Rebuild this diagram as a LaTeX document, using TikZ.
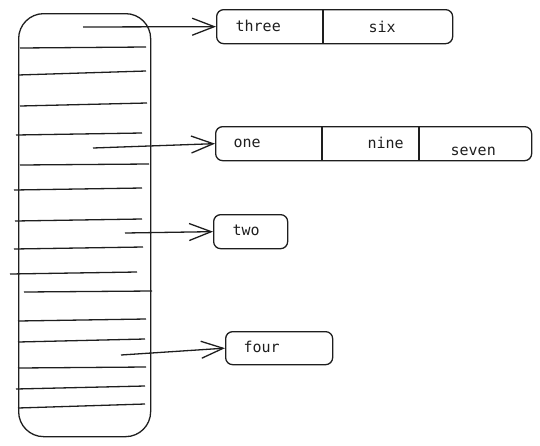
\documentclass[tikz,border=0pt]{standalone}
\usepackage{fontspec}
\setmonofont{DejaVu Sans Mono}
\definecolor{inkgray}{HTML}{1E1E1E}
\usetikzlibrary{arrows.meta,positioning}

\begin{document}
\begin{tikzpicture}[
  x=1pt, y=-1pt,
  line width=1.3pt, draw=inkgray,
  bucket/.style={rectangle, draw=inkgray, rounded corners=7pt,
    inner sep=0pt, anchor=north west},
  word/.style={anchor=base west, inner sep=0pt, text=inkgray,
    font=\ttfamily\fontsize{15}{18}\selectfont},
  link/.style={draw=inkgray, -{Straight Barb[length=22pt, width=17pt]}}
]
  \useasboundingbox (0,0) rectangle (540,445);

  % the table
  \node[rectangle, draw=inkgray, rounded corners=25pt, minimum width=132pt,
    minimum height=423pt, inner sep=0pt, anchor=north west] (tbl) at (18,13) {};
  \foreach \xa/\ya/\xb/\yb in {20/48/146/47, 18/75/146/71, 20/106/147/103,
      16/135/142/133, 20/165/149/164, 14/190/142/188, 15/221/142/219,
      14/249/143/247, 10/274/137/272, 24/292/152/291, 18/321/146/319,
      18/342/145/339, 18/368/146/367, 16/389/145/386, 18/408/145/404}
    \draw (\xa,\ya) -- (\xb,\yb);

  % the chains
  \node[bucket, minimum width=236pt, minimum height=34pt] (b1) at (216,9) {};
  \node[bucket, minimum width=316pt, minimum height=34pt] (b2) at (215,126) {};
  \node[bucket, minimum width=74pt, minimum height=34pt] (b3) at (213,214) {};
  \node[bucket, minimum width=107pt, minimum height=33pt] (b4) at (225,331) {};

  \draw ([xshift=107pt]b1.north west) -- ([xshift=107pt]b1.south west);
  \draw ([xshift=107pt]b2.north west) -- ([xshift=107pt]b2.south west);
  \draw ([xshift=204pt]b2.north west) -- ([xshift=204pt]b2.south west);

  \node[word] (w1) at (235,31) {three};
  \node[word] (w2) at (368,32) {six};
  \node[word] (w3) at (233,147) {one};
  \node[word] (w4) at (367,148) {nine};
  \node[word] (w5) at (450,155) {seven};
  \node[word] (w6) at (232,235) {two};
  \node[word] (w7) at (243,352) {four};

  % pointers
  \coordinate (p1) at (83,27);
  \coordinate (p2) at (93,148);
  \coordinate (p3) at (125,233);
  \coordinate (p4) at (121,355);
  \draw[link] (p1) -- (b1.west);
  \draw[link] (p2) -- (b2.west);
  \draw[link] (p3) -- (b3.west);
  \draw[link] (p4) -- (b4.west);
\end{tikzpicture}
\end{document}
